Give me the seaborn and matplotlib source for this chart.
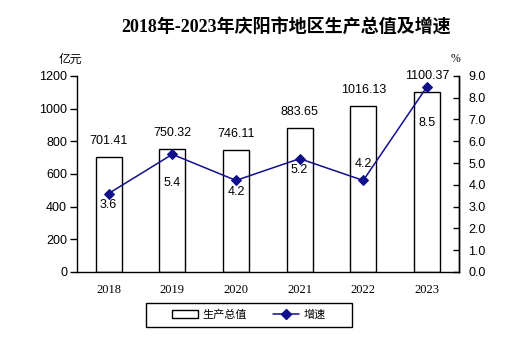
import matplotlib
matplotlib.use("Agg")
import matplotlib.pyplot as plt
import seaborn as sns
import pandas as pd
from matplotlib.patches import Patch, Rectangle
from matplotlib.lines import Line2D

years = ["2018", "2019", "2020", "2021", "2022", "2023"]
gdp = [701.41, 750.32, 746.11, 883.65, 1016.13, 1100.37]
growth = [3.6, 5.4, 4.2, 5.2, 4.2, 8.5]
left_ticks = [0, 200, 400, 600, 800, 1000, 1200]
right_ticks = [0.0, 1.0, 2.0, 3.0, 4.0, 5.0, 6.0, 7.0, 8.0, 9.0]
# label offsets (points) for growth labels, relative to marker
growth_label_dy = [-8.5, -21, -8, -8.5, 12, -26]

sns.set_style("white")
plt.rcParams['font.family'] = ['Liberation Sans', 'Noto Sans CJK SC', 'DejaVu Sans']
for k in ['text.color', 'axes.labelcolor', 'xtick.color', 'ytick.color', 'axes.edgecolor']:
    plt.rcParams[k] = 'black'

LINE_COLOR = "#10108C"

df = pd.DataFrame({"year": years, "gdp": gdp, "growth": growth})

fig = plt.figure(figsize=(5.12, 3.42), dpi=100)
ax = fig.add_axes([0.150, 0.205, 0.746, 0.573])
sns.barplot(data=df, x="year", y="gdp", ax=ax, color="white", edgecolor="black",
            linewidth=1.0, width=0.41, saturation=1)
ax.set_xlim(-0.5, 5.5)
ax.set_ylim(0, 1200)
ax.set_yticks(left_ticks)
ax.set_yticklabels([str(t) for t in left_ticks], fontsize=9)
ax.set_xticks(range(len(years)))
ax.set_xticklabels(years, fontsize=9, family=['Liberation Serif'])
ax.set_xlabel("")
ax.set_ylabel("")
ax.spines["top"].set_visible(False)
for s in ["left", "bottom", "right"]:
    ax.spines[s].set_color("black")
    ax.spines[s].set_linewidth(1.0)
ax.tick_params(axis='y', direction='out', length=5, width=1, color='black', left=True, pad=2)
ax.tick_params(axis='x', length=0, pad=9)

for i, v in enumerate(gdp):
    ax.annotate(f"{v:.2f}", (i, v), xytext=(0, 11.5), textcoords='offset points',
                ha='center', va='center', fontsize=9)

ax2 = ax.twinx()
sns.lineplot(x=list(range(len(years))), y=growth, ax=ax2, color=LINE_COLOR, marker="D",
             markersize=5, linewidth=1.1, markeredgecolor=LINE_COLOR)
ax2.set_ylim(0, 9)
ax2.set_yticks(right_ticks)
ax2.set_yticklabels([f"{t:.1f}" for t in right_ticks], fontsize=9)
ax2.tick_params(axis='y', direction='in', length=4, width=1, color='black', right=True, pad=7)
for s in ["top", "left", "bottom"]:
    ax2.spines[s].set_visible(False)
ax2.spines["right"].set_color("black")
ax2.spines["right"].set_linewidth(1.0)
ax2.set_xlim(-0.5, 5.5)
for i, v in enumerate(growth):
    ax2.annotate(f"{v:.1f}", (i, v), xytext=(0, growth_label_dy[i]), textcoords='offset points',
                 ha='center', va='center', fontsize=9)

fig.text(0.559, 0.918, "2018年-2023年庆阳市地区生产总值及增速", ha='center', va='center',
         fontsize=13, fontweight='bold', family=['Liberation Serif', 'Noto Sans CJK SC'])
fig.text(0.137, 0.827, "亿元", ha='center', va='center', fontsize=8.5,
         family=['Noto Sans CJK SC'])
fig.text(0.889, 0.827, "%", ha='center', va='center', fontsize=8.5,
         family=['Liberation Serif'])

handles = [Patch(facecolor='white', edgecolor='black', linewidth=1.0),
           Line2D([0], [0], color=LINE_COLOR, marker="D", markersize=5, linewidth=1.1)]
leg = fig.legend(handles, ["生产总值", "增速"], loc='center', bbox_to_anchor=(0.486, 0.079),
                 ncol=2, frameon=False, borderpad=0.0,
                 columnspacing=2.4, handlelength=2.3, handletextpad=0.4,
                 prop={'family': ['Noto Sans CJK SC'], 'size': 8})
fig.patches.append(Rectangle((146 / 512, 1 - 327 / 342), 206 / 512, 24 / 342,
                             transform=fig.transFigure, fill=False, edgecolor='black',
                             linewidth=1.0, figure=fig))

fig.savefig("out.png", dpi=100)
